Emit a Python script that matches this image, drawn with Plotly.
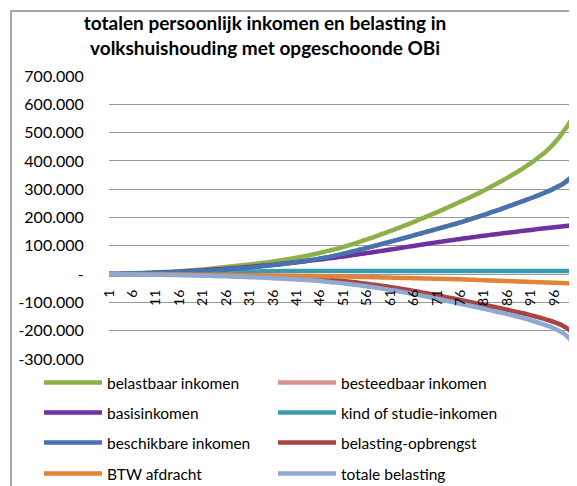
import plotly.graph_objects as go

categories = list(range(1, 101))

belastbaar_inkomen = [0, 0.5, 1, 1.5, 2, 2.6, 3.2, 3.8, 4.4, 5, 5.8, 6.6, 7.4, 8.2, 9, 10.2, 11.4, 12.6, 13.8, 15,
    16.6, 18.2, 19.8, 21.4, 23, 24.8, 26.6, 28.4, 30.2, 32, 34, 36, 38, 40, 42, 44.5, 47, 49.6, 52.3, 55,
    58, 61, 64.2, 67.5, 71, 75, 79, 83, 87, 91, 96, 101, 106, 111.5, 117, 122.5, 128, 134, 140, 146,
    152, 158, 164.5, 171, 177.5, 184, 191, 198, 205, 212, 219, 226, 233.5, 241, 248.5, 256, 263.5, 271, 279, 287,
    295.5, 304, 313, 322, 331, 340.5, 350, 360, 370, 381, 392, 404, 417, 430, 445, 462, 482, 505, 528, 555]

beschikbare_inkomen = [0, 0.2, 0.5, 0.7, 1, 1.4, 1.8, 2.2, 2.6, 3, 3.6, 4.2, 4.8, 5.4, 6, 6.8, 7.6, 8.4, 9.2, 10,
    11, 12, 13, 14, 15, 16.4, 17.8, 19.2, 20.6, 22, 23.6, 25.2, 26.8, 28.4, 30, 32, 34, 36, 38, 40,
    42.4, 44.8, 47.2, 49.6, 52, 55, 58, 61, 64.5, 68, 72, 76, 80, 84, 88, 92.4, 96.8, 101.2, 105.6, 110,
    114.4, 118.8, 123.2, 127.6, 132, 136.6, 141.2, 145.8, 150.4, 155, 159.6, 164.2, 168.8, 173.4, 178, 183, 188, 193.5, 198.5, 204,
    209.5, 215, 220.5, 226, 232, 238, 244, 250, 256, 262, 268, 274.5, 281, 288, 295, 303, 311, 321, 333, 348]

besteedbaar_inkomen = [0, 0.2, 0.5, 0.7, 1, 1.4, 1.8, 2.2, 2.6, 3, 3.6, 4.2, 4.8, 5.4, 6, 6.8, 7.6, 8.4, 9.2, 10,
    11, 12, 13, 14, 15, 16.4, 17.8, 19.2, 20.6, 22, 23.6, 25.2, 26.8, 28.4, 30, 32, 34, 36, 38, 40,
    42.4, 44.8, 47.2, 49.6, 52, 55, 58, 61, 64.5, 68, 72, 76, 80, 84, 88, 92.4, 96.8, 101.2, 105.6, 110,
    114.4, 118.8, 123.2, 127.6, 132, 136.6, 141.2, 145.8, 150.4, 155, 159.6, 164.2, 168.8, 173.4, 178, 183, 188, 193.5, 198.5, 204,
    209.5, 215, 220.5, 226, 232, 238, 244, 250, 256, 262, 268, 274.5, 281, 288, 295, 303, 311, 321, 333, 348]

basisinkomen = [0, 0.3, 0.7, 1.1, 1.5, 2, 2.5, 3, 3.5, 4, 4.7, 5.4, 6.1, 6.9, 7.7, 8.5, 9.3, 10.2, 11.1, 12,
    13.1, 14.2, 15.3, 16.4, 17.6, 18.8, 20, 21.2, 22.6, 24, 25.5, 27, 28.5, 30, 31.6, 33.2, 34.8, 36.4, 38.2, 40,
    41.9, 43.8, 45.7, 47.7, 49.7, 51.7, 53.7, 55.8, 57.9, 60, 62.3, 64.6, 67, 69.4, 71.8, 74.2, 76.6, 79, 81.5, 84,
    86.6, 89.2, 91.8, 94.4, 97, 99.6, 102.2, 104.8, 107.4, 110, 112.4, 114.8, 117.2, 119.6, 122, 124.3, 126.6, 128.9, 131.2, 133.5,
    135.6, 137.7, 139.8, 141.9, 144, 146, 148, 150, 152, 154, 156, 158, 160, 162, 164, 165.8, 167.6, 169.4, 171.2, 173]

kind_of_studie_inkomen = [0, 0.3, 0.6, 0.9, 1.2, 1.5, 1.8, 2.1, 2.4, 2.7, 3, 3.3, 3.6, 3.9, 4.2, 4.5, 4.8, 5.1, 5.4, 5.7,
    6, 6.3, 6.6, 6.9, 7.2, 7.5, 7.8, 8.1, 8.4, 8.7, 9, 9.3, 9.6, 9.8, 10, 10.2, 10.4, 10.6, 10.8, 11,
    11, 11, 11, 11, 11, 11, 11, 11, 11, 11, 11, 11, 11, 11, 11, 11, 11, 11, 11, 11,
    11, 11, 11, 11, 11, 11, 11, 11, 11, 11, 11, 11, 11, 11, 11, 11, 11, 11, 11, 11,
    11, 11, 11, 11, 11, 11, 11, 11, 11, 11, 11, 11, 11, 11, 11, 11, 11, 11, 11, 11]

belasting_opbrengst = [0, -0.1, -0.2, -0.3, -0.4, -0.5, -0.6, -0.8, -0.9, -1, -1.1, -1.3, -1.4, -1.6, -1.8, -2, -2.2, -2.4, -2.7, -3,
    -3.3, -3.6, -3.9, -4.2, -4.5, -4.8, -5.1, -5.4, -5.7, -6, -6.5, -7, -7.5, -8, -8.6, -9.2, -9.9, -10.6, -11.3, -12,
    -12.7, -13.4, -14.2, -15.1, -16, -17.2, -18.6, -20, -21.5, -23, -24.6, -26.3, -28.1, -30, -32, -34.1, -36.3, -38.5, -40.7, -43,
    -45.6, -48.2, -50.9, -53.7, -56.5, -59.4, -62.4, -65.4, -68.4, -71.5, -74.8, -78.1, -81.4, -84.7, -88, -91.4, -94.8, -98.2, -101.6, -105,
    -108.5, -112, -115.5, -119, -122.5, -126.2, -129.9, -133.6, -137.3, -141, -145.4, -149.8, -154.3, -159, -164, -169.5, -176, -184, -195, -209]

btw_afdracht = [0, -0.1, -0.2, -0.3, -0.4, -0.5, -0.6, -0.7, -0.8, -0.9, -1, -1.1, -1.2, -1.3, -1.4, -1.5, -1.6, -1.8, -1.9, -2,
    -2.2, -2.4, -2.6, -2.8, -3, -3.2, -3.4, -3.6, -3.8, -4, -4.2, -4.4, -4.6, -4.8, -5, -5.2, -5.4, -5.6, -5.8, -6,
    -6.2, -6.4, -6.6, -6.8, -7, -7.2, -7.4, -7.6, -7.8, -8, -8.4, -8.8, -9.2, -9.6, -10, -10.4, -10.8, -11.2, -11.6, -12,
    -12.4, -12.8, -13.2, -13.6, -14, -14.4, -14.8, -15.2, -15.6, -16, -16.4, -16.8, -17.2, -17.6, -18, -18.6, -19.2, -19.8, -20.4, -21,
    -21.6, -22.2, -22.8, -23.4, -24, -24.6, -25.2, -25.8, -26.4, -27, -27.6, -28.2, -28.8, -29.4, -30, -30.6, -31.2, -31.8, -32.4, -33]

totale_belasting = [0, -0.2, -0.4, -0.6, -0.8, -1, -1.2, -1.6, -1.8, -2, -2.2, -2.5, -2.7, -3, -3.3, -3.6, -3.9, -4.2, -4.6, -5,
    -5.5, -6, -6.5, -7, -7.5, -8, -8.5, -9, -9.5, -10, -10.7, -11.4, -12.1, -12.8, -13.6, -14.4, -15.3, -16.2, -17.1, -18,
    -18.9, -19.8, -20.8, -21.9, -23, -24.4, -26, -27.6, -29.3, -31, -32.8, -34.7, -36.7, -38.8, -41, -43.3, -45.7, -48.1, -50.5, -53,
    -55.8, -58.6, -61.5, -64.5, -67.5, -70.6, -73.8, -77, -80.2, -83.5, -87, -90.5, -94, -97.5, -101, -104.6, -108.2, -111.8, -115.4, -119,
    -122.7, -126.4, -130.1, -133.8, -137.5, -141.6, -145.7, -149.8, -153.9, -158, -163.2, -168.4, -173.7, -179.2, -185, -192, -200, -210, -224, -244]

series_names = ["belastbaar inkomen", "besteedbaar inkomen", "basisinkomen", "kind of studie-inkomen",
                "beschikbare inkomen", "belasting-opbrengst", "BTW afdracht", "totale belasting"]
series_values = [belastbaar_inkomen, besteedbaar_inkomen, basisinkomen, kind_of_studie_inkomen,
                 beschikbare_inkomen, belasting_opbrengst, btw_afdracht, totale_belasting]
series_colors = ["#8DB04B", "#D69392", "#7030A0", "#3C9BB1", "#4573AD", "#AA4442", "#E2833A", "#8FAAD2"]

y_tickvals = [-300, -200, -100, 0, 100, 200, 300, 400, 500, 600, 700]
y_ticktext = ["-300.000", "-200.000", "-100.000", "-", "100.000", "200.000", "300.000",
              "400.000", "500.000", "600.000", "700.000"]
x_tickvals = categories[::5]
x_ticktext = [str(c) for c in x_tickvals]

FONT = "Lato, 'Open Sans', sans-serif"

# page body has an 8px default margin: the figure sits at (8, 8) in the window
OFF = 8
W, H = 577 - OFF, 486 - OFF
L, R, T, B = 109 - OFF, 4, 76 - OFF, 486 - 359
pw, ph = W - L - R, H - T - B

def px_x(x):  # window px -> paper fraction
    return (x - OFF - L) / pw

def px_y(y):
    return (H - B - (y - OFF)) / ph

# legend grid: 2 columns x 4 rows, one legend box per entry (container coords)
col_x = [39, 273]
row_y = [383, 413, 443, 474]

fig = go.Figure()
legend_layout = {}
for i, (name, vals, col) in enumerate(zip(series_names, series_values, series_colors)):
    lid = "legend" if i == 0 else f"legend{i + 1}"
    fig.add_trace(go.Scatter(x=categories, y=vals, name=name, mode="lines",
                             line=dict(color=col, width=4.5, shape="spline", smoothing=0.8),
                             legend=lid, showlegend=True))
    r, c = divmod(i, 2)
    legend_layout[lid] = dict(orientation="h", itemwidth=58, visible=True,
                              font=dict(family=FONT, size=15.5, color="#000"),
                              bgcolor="rgba(0,0,0,0)", borderwidth=0,
                              xref="container", yref="container",
                              xanchor="left", yanchor="middle",
                              x=(col_x[c] - OFF) / W, y=1 - (row_y[r] - OFF) / H)

fig.update_layout(
    template="none",
    width=W, height=H,
    showlegend=True,
    margin=dict(l=L, r=R, t=T, b=B, pad=0, autoexpand=False),
    paper_bgcolor="white", plot_bgcolor="white",
    font=dict(family=FONT, color="#000"),
    title=dict(text="<b>totalen persoonlijk inkomen en belasting in<br>volkshuishouding met opgeschoonde OBi</b>",
               x=(265 - OFF) / W, xref="container", xanchor="center",
               y=1 - 22 / H, yref="container", yanchor="top",
               font=dict(family=FONT, size=19, color="#000")),
    xaxis=dict(type="category", range=[0, 99], tickmode="array", tickvals=x_tickvals, ticktext=x_ticktext,
               tickangle=-90, tickfont=dict(family=FONT, size=14, color="#000"),
               anchor="free", position=0.3, showgrid=False, zeroline=False, showline=False,
               automargin=False,
               ticks="outside", ticklen=9, tickcolor="rgba(0,0,0,0)"),
    yaxis=dict(range=[-300, 700], tickmode="array", tickvals=y_tickvals, ticktext=y_ticktext,
               tickfont=dict(family=FONT, size=16, color="#000"),
               showgrid=True, gridcolor="#999999", gridwidth=1.3, automargin=False,
               zeroline=True, zerolinecolor="#999999", zerolinewidth=1.3, showline=False,
               ticks="outside", ticklen=21, tickcolor="rgba(0,0,0,0)"),
    shapes=[dict(type="rect", xref="paper", yref="paper",
                 x0=px_x(11), x1=px_x(590), y0=px_y(500), y1=px_y(11),
                 line=dict(color="#8C8C8C", width=1.5), fillcolor="rgba(0,0,0,0)", layer="below")],
    **legend_layout,
)

fig.write_html("out.html")
